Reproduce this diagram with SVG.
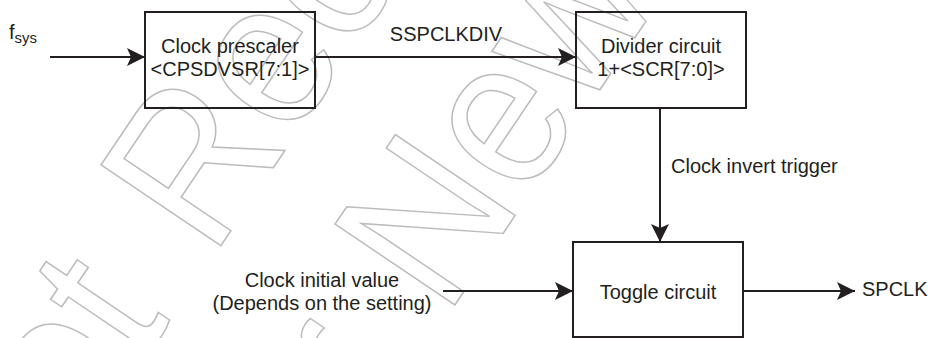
<svg xmlns="http://www.w3.org/2000/svg" width="928" height="338" viewBox="0 0 928 338">
<style>
.wm{font-family:"Liberation Sans",Arial,sans-serif;font-size:210px;fill:none;stroke:#bcbcbc;stroke-width:1.5;word-spacing:21px}
.box{fill:none;stroke:#231f20;stroke-width:2}
.t{font-family:"Liberation Sans",Arial,sans-serif;font-size:20px;fill:#231f20}
.c{text-anchor:middle}
.ln{stroke:#231f20;stroke-width:2;fill:none;marker-end:url(#ah)}
</style>
<defs>
<marker id="ah" markerUnits="userSpaceOnUse" markerWidth="20" markerHeight="20" viewBox="0 -10 20 20" refX="18" refY="0" orient="auto">
<path d="M0,-9 L18,0 L0,9 L4,0 z" fill="#231f20"/>
</marker>
</defs>
<rect width="928" height="338" fill="#ffffff"/>
<g id="watermark">
<text class="wm" vector-effect="non-scaling-stroke" transform="translate(3 568.5) rotate(-56) scale(0.92 1)">Not Recommended</text>
<text class="wm" vector-effect="non-scaling-stroke" transform="translate(279 565.3) rotate(-56) scale(0.92 1)">for New Design</text>
</g>
<g id="connectors">
<line class="ln" x1="50" y1="57" x2="145" y2="57"/>
<line class="ln" x1="315" y1="57" x2="576" y2="57"/>
<line class="ln" x1="660" y1="108" x2="660" y2="242"/>
<line class="ln" x1="443" y1="291" x2="573" y2="291"/>
<line class="ln" x1="743" y1="291" x2="855" y2="291"/>
<text class="t c" x="446" y="41">SSPCLKDIV</text>
<text class="t" x="671" y="173">Clock invert trigger</text>
</g>
<g id="fsys">
<text class="t" x="9" y="39">f<tspan font-size="15" y="43">sys</tspan></text>
</g>
<g id="prescaler">
<rect class="box" x="145" y="12" width="170" height="96"/>
<text class="t c" x="230" y="53">Clock prescaler</text>
<text class="t c" x="230" y="76">&lt;CPSDVSR[7:1]&gt;</text>
</g>
<g id="divider">
<rect class="box" x="576" y="12" width="170" height="96"/>
<text class="t c" x="661" y="53">Divider circuit</text>
<text class="t c" x="661" y="76">1+&lt;SCR[7:0]&gt;</text>
</g>
<g id="initval">
<text class="t c" x="322" y="287">Clock initial value</text>
<text class="t c" x="322" y="310">(Depends on the setting)</text>
</g>
<g id="toggle">
<rect class="box" x="573" y="242" width="170" height="95"/>
<text class="t c" x="658" y="299">Toggle circuit</text>
</g>
<g id="spclk">
<text class="t" x="862" y="296">SPCLK</text>
</g>
</svg>
